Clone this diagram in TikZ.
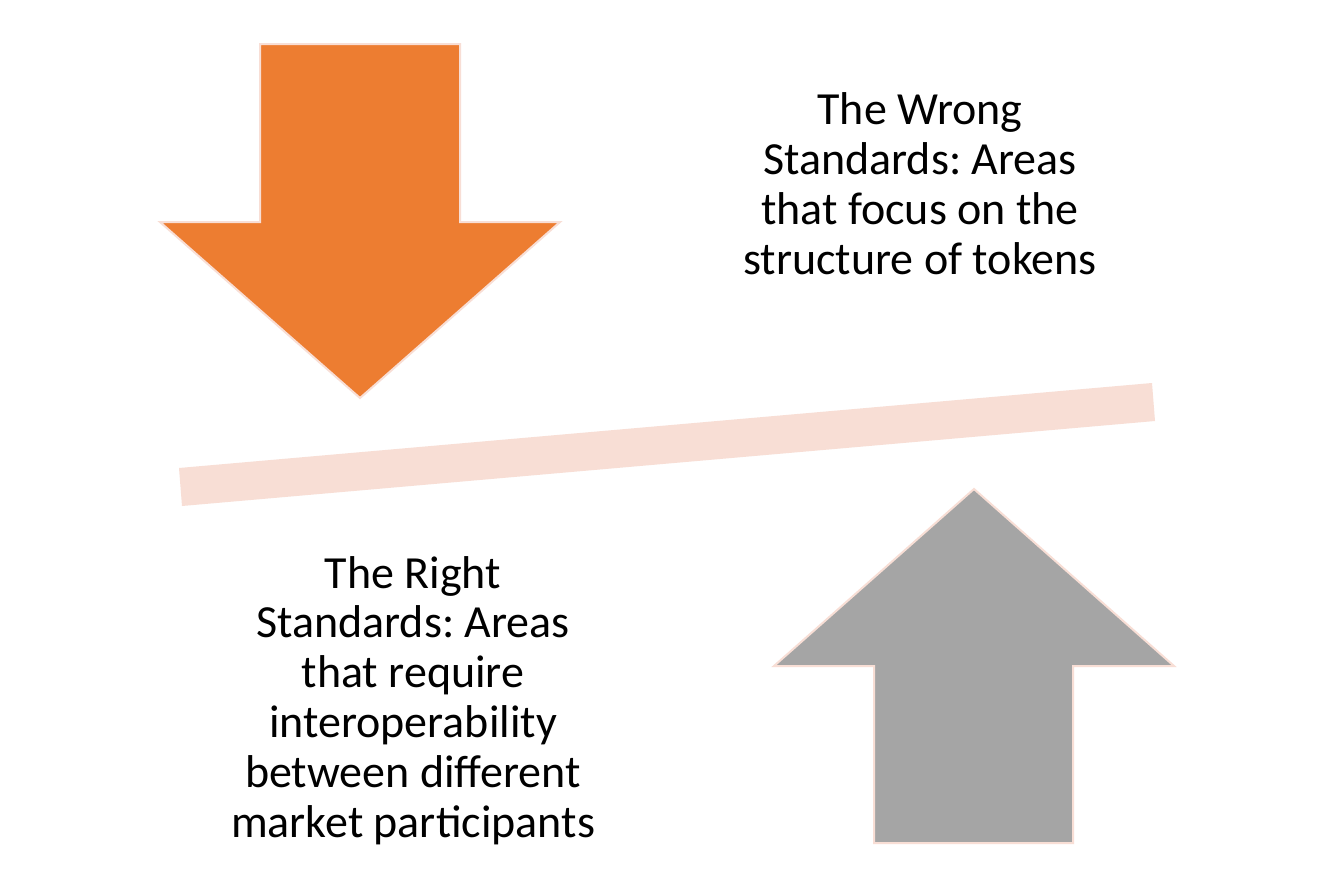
\documentclass[tikz,border=0pt]{standalone}
\usepackage{fontspec}
\setmainfont{Carlito}
\frenchspacing
\definecolor{arrOrange}{HTML}{ED7D31}
\definecolor{arrGray}{HTML}{A5A5A5}
\definecolor{paleRose}{HTML}{F8DED5}
\tikzset{
  bigarrow/.style={draw=paleRose, line width=2pt, line join=miter},
  lbl/.style={align=center, inner sep=0pt, font=\fontsize{46}{49.8}\selectfont, text=black}
}
\begin{document}
\begin{tikzpicture}[x=1pt,y=-1pt]
\useasboundingbox[fill=white] (0,0) rectangle (1334,889);
% orange down arrow
\fill[arrOrange] (260,44) -- (460,44) -- (460,222) -- (560,222) -- (360,398) -- (160,222) -- (260,222) -- cycle;
\draw[bigarrow] (260,44) -- (460,44) -- (460,222) -- (560,222) -- (360,398) -- (160,222) -- (260,222) -- cycle;
% balance bar
\fill[paleRose] (179,468) -- (1152,383) -- (1155,421) -- (182,506) -- cycle;
% gray up arrow
\fill[arrGray] (874,843) -- (1073,843) -- (1073,666) -- (1174,666) -- (974,489) -- (774,666) -- (874,666) -- cycle;
\draw[bigarrow] (874,843) -- (1073,843) -- (1073,666) -- (1174,666) -- (974,489) -- (774,666) -- (874,666) -- cycle;
% labels (base anchor = baseline of the last line)
\node[lbl, anchor=base] (wrong) at (920,274) {The Wrong\\Standards: Areas\\that focus on the\\structure of tokens};
\node[lbl, anchor=base] (right) at (413,837) {The Right\\Standards: Areas\\that require\\interoperability\\between different\\market participants};
\end{tikzpicture}
\end{document}
